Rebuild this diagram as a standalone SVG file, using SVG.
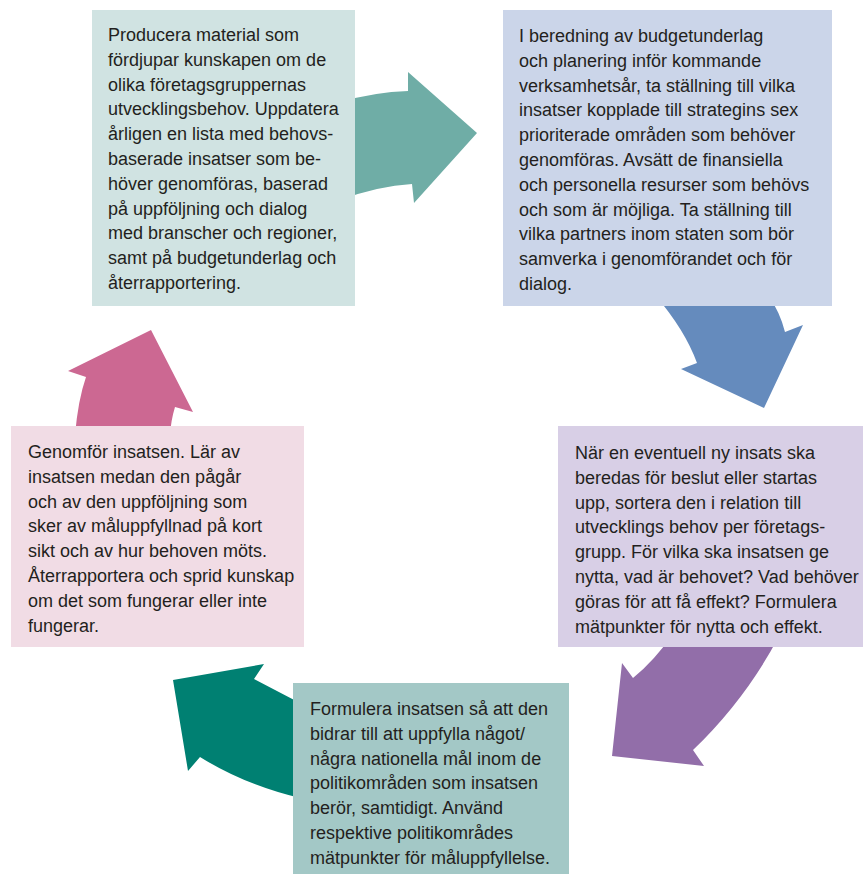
<svg xmlns="http://www.w3.org/2000/svg" width="863" height="874" viewBox="0 0 863 874">
<style>
  .t { font-family: "Liberation Sans", Arial, sans-serif; font-size: 18px; fill: #231f20; }
</style>
<rect width="863" height="874" fill="#ffffff"/>
<g id="connectors">
  <path id="arrow-1" d="M 340 102 Q 375 92 408 91 L 408 72 L 477 133 L 414 203 L 412 184 Q 378 186 340 200 Z" fill="#6fada6"/>
  <path id="arrow-2" d="M 655 295 Q 685 330 697 363 L 681 369 L 764 408 L 803 325 L 785 332 Q 780 312 768 295 Z" fill="#658bbd"/>
  <path id="arrow-3" d="M 672 635 Q 655 660 633 678 L 622 663 L 612 756 L 704 766 L 693 750 Q 745 700 778 638 Z" fill="#926ea9"/>
  <path id="arrow-4" d="M 300 703 Q 275 690 254 679 L 264 664 L 173 680 L 188 771 L 200 757 Q 245 785 300 798 Z" fill="#008072"/>
  <path id="arrow-5" d="M 75 435 Q 78 400 86 377 L 68 371 L 151 330 L 193 412 L 175 407 Q 171 420 170 435 Z" fill="#cc6892"/>
</g>
<g id="node-1">
  <rect x="92" y="10" width="263" height="296" fill="#d0e3e2"/>
  <text class="t">
    <tspan x="108" y="41">Producera material som</tspan>
    <tspan x="108" y="65.8">fördjupar kunskapen om de</tspan>
    <tspan x="108" y="90.6">olika företagsgruppernas</tspan>
    <tspan x="108" y="115.4">utvecklingsbehov. Uppdatera</tspan>
    <tspan x="108" y="140.2">årligen en lista med behovs-</tspan>
    <tspan x="108" y="165">baserade insatser som be-</tspan>
    <tspan x="108" y="189.8">höver genomföras, baserad</tspan>
    <tspan x="108" y="214.6">på uppföljning och dialog</tspan>
    <tspan x="108" y="239.4">med branscher och regioner,</tspan>
    <tspan x="108" y="264.2">samt på budgetunderlag och</tspan>
    <tspan x="108" y="289">återrapportering.</tspan>
  </text>
</g>
<g id="node-2">
  <rect x="503" y="10" width="329" height="296" fill="#cbd5e9"/>
  <text class="t">
    <tspan x="519" y="42">I beredning av budgetunderlag</tspan>
    <tspan x="519" y="66.8">och planering inför kommande</tspan>
    <tspan x="519" y="91.6">verksamhetsår, ta ställning till vilka</tspan>
    <tspan x="519" y="116.4">insatser kopplade till strategins sex</tspan>
    <tspan x="519" y="141.2">prioriterade områden som behöver</tspan>
    <tspan x="519" y="166">genomföras. Avsätt de finansiella</tspan>
    <tspan x="519" y="190.8">och personella resurser som behövs</tspan>
    <tspan x="519" y="215.6">och som är möjliga. Ta ställning till</tspan>
    <tspan x="519" y="240.4">vilka partners inom staten som bör</tspan>
    <tspan x="519" y="265.2">samverka i genomförandet och för</tspan>
    <tspan x="519" y="290">dialog.</tspan>
  </text>
</g>
<g id="node-3">
  <rect x="558" y="426" width="305" height="221" fill="#d8cfe6"/>
  <text class="t">
    <tspan x="575" y="459">När en eventuell ny insats ska</tspan>
    <tspan x="575" y="483.8">beredas för beslut eller startas</tspan>
    <tspan x="575" y="508.6">upp, sortera den i relation till</tspan>
    <tspan x="575" y="533.4">utvecklings behov per företags-</tspan>
    <tspan x="575" y="558.2">grupp. För vilka ska insatsen ge</tspan>
    <tspan x="575" y="583">nytta, vad är behovet? Vad behöver</tspan>
    <tspan x="575" y="607.8">göras för att få effekt? Formulera</tspan>
    <tspan x="575" y="632.6">mätpunkter för nytta och effekt.</tspan>
  </text>
</g>
<g id="node-4">
  <rect x="293" y="683" width="276" height="191" fill="#a3c8c6"/>
  <text class="t">
    <tspan x="310" y="715">Formulera insatsen så att den</tspan>
    <tspan x="310" y="739.8">bidrar till att uppfylla något/</tspan>
    <tspan x="310" y="764.6">några nationella mål inom de</tspan>
    <tspan x="310" y="789.4">politikområden som insatsen</tspan>
    <tspan x="310" y="814.2">berör, samtidigt. Använd</tspan>
    <tspan x="310" y="839">respektive politikområdes</tspan>
    <tspan x="310" y="863.8">mätpunkter för måluppfyllelse.</tspan>
  </text>
</g>
<g id="node-5">
  <rect x="11" y="426" width="293" height="221" fill="#f1dce5"/>
  <text class="t">
    <tspan x="28" y="458">Genomför insatsen. Lär av</tspan>
    <tspan x="28" y="482.8">insatsen medan den pågår</tspan>
    <tspan x="28" y="507.6">och av den uppföljning som</tspan>
    <tspan x="28" y="532.4">sker av måluppfyllnad på kort</tspan>
    <tspan x="28" y="557.2">sikt och av hur behoven möts.</tspan>
    <tspan x="28" y="582">Återrapportera och sprid kunskap</tspan>
    <tspan x="28" y="606.8">om det som fungerar eller inte</tspan>
    <tspan x="28" y="631.6">fungerar.</tspan>
  </text>
</g>
</svg>
